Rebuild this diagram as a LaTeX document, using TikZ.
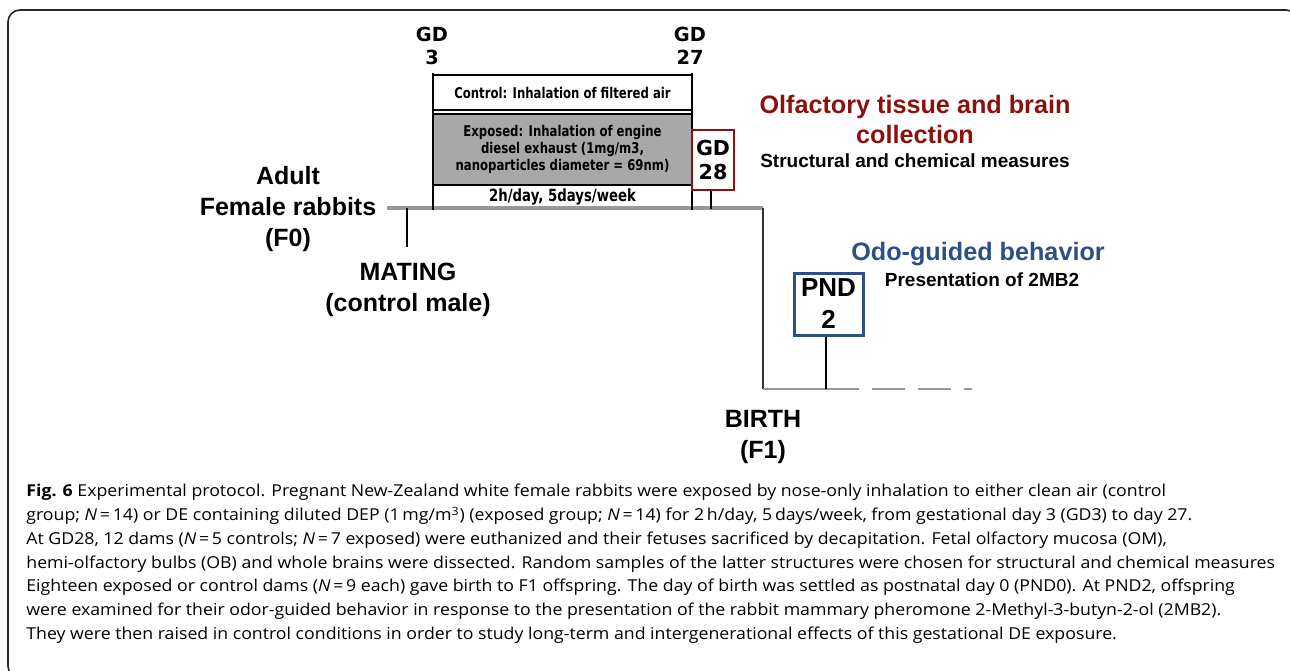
\documentclass[tikz,border=0pt]{standalone}
\usepackage{fontspec}
\setmainfont{Liberation Sans}
\newfontfamily\capfont[FakeStretch=1.08]{Open Sans}
\newfontfamily\boxfont[FakeStretch=0.79]{DejaVu Sans}
\newfontfamily\gdfont{DejaVu Sans}
\usepackage{tikz}
\usetikzlibrary{positioning}
\definecolor{darkred}{HTML}{8B1010}
\definecolor{odoblue}{HTML}{2B4F86}
\definecolor{linegray}{HTML}{999999}
\definecolor{boxgray}{HTML}{A8A8A8}
\tikzstyle{gdline} = [line width=1.25pt, black]
\tikzstyle{timeline} = [line width=1.6pt, linegray]
\tikzstyle{daybox} = [draw, line width=1pt, black, minimum width=129.5pt, inner sep=0pt, font=\boxfont\bfseries\fontsize{7.4}{8.5}\selectfont, align=center]
\tikzstyle{biglabel} = [font=\bfseries\fontsize{12.5}{15.5}\selectfont, align=center]
\tikzstyle{sublabel} = [font=\bfseries\fontsize{9.5}{11}\selectfont, align=center]
\tikzstyle{gdlabel} = [font=\gdfont\bfseries\fontsize{9.7}{11.5}\selectfont, align=center]
\tikzstyle{markbox} = [draw, fill=white, align=center, inner sep=0pt]

\begin{document}
\begin{tikzpicture}[x=0.5pt,y=-0.5pt]
    \useasboundingbox (0,0) rectangle (1290,670);
    \draw[line width=0.8pt, black!85, rounded corners=6pt] (8,10) rectangle (1298,678);

    % exposure boxes
    \node[daybox, minimum height=17.5pt] (ctrl) at (562.5,92.5) {Control: Inhalation of filtered air};
    \node[daybox, fill=boxgray, minimum height=35.5pt] (expo) at (562.5,149.5) {Exposed: Inhalation of engine\\diesel exhaust (1mg/m3,\\nanoparticles diameter = 69nm)};
    \node[font=\boxfont\bfseries\fontsize{8.4}{9}\selectfont, inner sep=0pt] (sched) at (562.5,197) {2h/day, 5days/week};

    % timeline
    \coordinate (f0) at (387,208);
    \coordinate (bend) at (763,208);
    \coordinate (birthpt) at (763,389);
    \coordinate (pndpt) at (826,389);
    \coordinate (future) at (972,389);
    \draw[timeline] (f0) -- (bend);
    \draw[line width=1pt, black!80] (bend) -- (birthpt);
    \draw[timeline, line width=1.4pt] (birthpt) -- (pndpt);
    \draw[timeline, line width=1.4pt, dash pattern=on 16.5pt off 6.5pt] (pndpt) -- (future);

    % gestation days
    \node[gdlabel] (gd3) at (432,46) {GD\\3};
    \node[gdlabel] (gd27) at (690,46) {GD\\27};
    \coordinate (gd3top) at (433,73);
    \coordinate (gd3end) at (433,210);
    \coordinate (gd27top) at (692,73);
    \coordinate (gd27end) at (692,210);
    \draw[gdline] (gd3top) -- (gd3end);
    \draw[gdline] (gd27top) -- (gd27end);
    \node[markbox, draw=darkred, line width=1.25pt, minimum width=21pt, minimum height=30pt, font=\gdfont\bfseries\fontsize{10.3}{12}\selectfont] (gd28) at (713,160) {GD\\28};
    \coordinate (gd28end) at (711,209);
    \draw[gdline] (gd28.south -| gd28end) -- (gd28end);

    % mating
    \coordinate (matetop) at (407,208);
    \coordinate (matebot) at (407,247);
    \draw[gdline] (matetop) -- (matebot);

    % postnatal day
    \node[markbox, draw=odoblue, line width=1.5pt, minimum width=34.5pt, minimum height=31pt, font=\bfseries\fontsize{13}{16}\selectfont] (pnd) at (828.5,304) {PND\\2};
    \draw[line width=1pt, black] (pnd.south -| pndpt) -- (pndpt);

    % labels
    \node[biglabel] (adult) at (288,209) {Adult\\Female rabbits\\(F0)};
    \node[biglabel] (mating) at (408,290) {MATING\\(control male)};
    \node[biglabel, font=\bfseries\fontsize{12.6}{15}\selectfont, text=darkred] (olf) at (915,119) {Olfactory tissue and brain\\collection};
    \node[sublabel] (struct) at (915,161) {Structural and chemical measures};
    \node[biglabel, font=\bfseries\fontsize{12.6}{15}\selectfont, text=odoblue] (odo) at (978,254) {Odo-guided behavior};
    \node[sublabel] (present) at (982,280) {Presentation of 2MB2};
    \node[biglabel] (birth) at (763,437) {BIRTH\\(F1)};

    % caption
    \node[anchor=north west, inner sep=0pt, align=left, font=\capfont\fontsize{8.2}{11.85}\selectfont] (caption) at (26,484) {\textbf{Fig. 6} Experimental protocol. Pregnant New-Zealand white female rabbits were exposed by nose-only inhalation to either clean air (control\\
group; \textit{N}\,=\,14) or DE containing diluted DEP (1\,mg/m\textsuperscript{3}) (exposed group; \textit{N}\,=\,14) for 2\,h/day, 5\,days/week, from gestational day 3 (GD3) to day 27.\\
At GD28, 12 dams (\textit{N}\,=\,5 controls; \textit{N}\,=\,7 exposed) were euthanized and their fetuses sacrificed by decapitation. Fetal olfactory mucosa (OM),\\
hemi-olfactory bulbs (OB) and whole brains were dissected. Random samples of the latter structures were chosen for structural and chemical measures\\
Eighteen exposed or control dams (\textit{N}\,=\,9 each) gave birth to F1 offspring. The day of birth was settled as postnatal day 0 (PND0). At PND2, offspring\\
were examined for their odor-guided behavior in response to the presentation of the rabbit mammary pheromone 2-Methyl-3-butyn-2-ol (2MB2).\\
They were then raised in control conditions in order to study long-term and intergenerational effects of this gestational DE exposure.};
\end{tikzpicture}
\end{document}
